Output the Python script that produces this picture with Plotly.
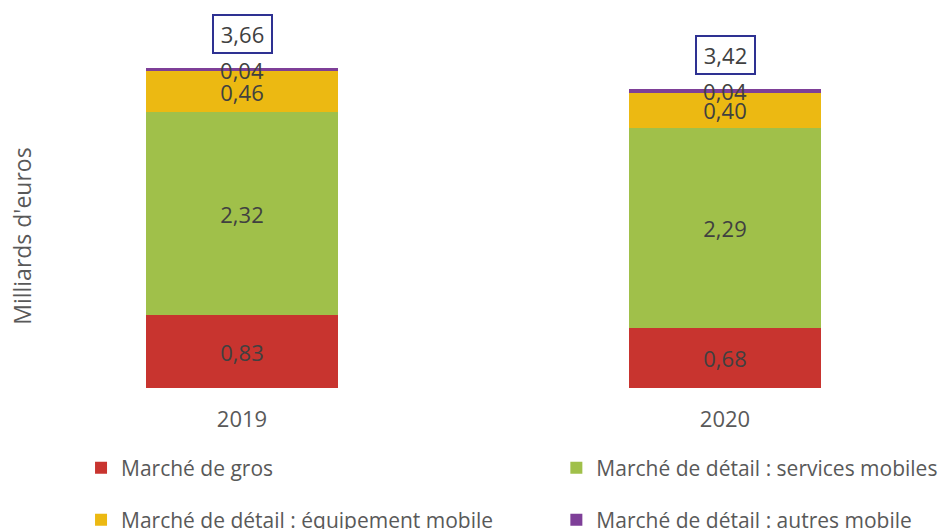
import plotly.graph_objects as go

categories = ["2019", "2020"]
gros = [0.83, 0.68]
services = [2.32, 2.29]
equipement = [0.46, 0.40]
autres = [0.04, 0.04]
totals_labels = ["3,66", "3,42"]

series_names = [
    "Marché de gros",
    "Marché de détail : services mobiles",
    "Marché de détail : équipement mobile",
    "Marché de détail : autres mobile",
]
series_values = [gros, services, equipement, autres]
colors = ["#C8342F", "#A0C04A", "#ECB912", "#7E3F98"]
legend_ids = ["legend", "legend2", "legend3", "legend4"]

FONT = "Open Sans"
fig = go.Figure()
for name, vals, col, lg in zip(series_names, series_values, colors, legend_ids):
    fig.add_trace(go.Bar(
        x=categories, y=vals, name=name, marker_color=col, marker_line_width=0,
        text=[f"{v:.2f}".replace(".", ",") for v in vals],
        textposition="inside", insidetextanchor="middle", textangle=0,
        constraintext="none", cliponaxis=False,
        textfont=dict(family=FONT, size=22, color="#404040"),
        width=0.3975, legend=lg,
    ))

stack_tops = [sum(v[i] for v in series_values) for i in range(len(categories))]
for i, (top, lab) in enumerate(zip(stack_tops, totals_labels)):
    fig.add_annotation(
        x=i, y=top, xref="x", yref="y", text=lab, showarrow=False,
        yanchor="bottom", yshift=14,
        font=dict(family=FONT, size=22, color="#404040"),
        bordercolor="#2E3192", borderwidth=2, borderpad=4, width=49, height=28,
        bgcolor="white",
    )

fig.add_annotation(
    x=-0.0437, y=0.4026, xref="paper", yref="paper", text="Milliards d'euros",
    xanchor="center", yanchor="middle",
    textangle=-90, showarrow=False, font=dict(family=FONT, size=23, color="#595959"),
)

legend_style = dict(orientation="h", yanchor="middle", xanchor="left",
                    xref="container", yref="container",
                    font=dict(family=FONT, size=21, color="#595959"),
                    bgcolor="rgba(0,0,0,0)")
row1, row2 = 0.1153, 0.017
colL, colR = 0.0863, 0.5925
fig.update_layout(
    barmode="stack",
    width=939, height=529,
    margin=dict(l=60, r=9, t=10, b=141, autoexpand=False),
    paper_bgcolor="white", plot_bgcolor="white",
    font=dict(family=FONT, size=20, color="#595959"),
    xaxis=dict(type="category", range=[-0.3768, 1.4244], showline=False,
               showgrid=False, zeroline=False, ticks="", ticklabelstandoff=16,
               tickfont=dict(family=FONT, size=22, color="#595959")),
    yaxis=dict(range=[0, 4.311], showticklabels=False, showgrid=False,
               zeroline=False, showline=False),
    legend=dict(x=colL, y=row1, **legend_style),
    legend2=dict(x=colR, y=row1, **legend_style),
    legend3=dict(x=colL, y=row2, **legend_style),
    legend4=dict(x=colR, y=row2, **legend_style),
    showlegend=True,
)

fig.write_html(
    "out.html",
    config={"displayModeBar": False},
    post_script="document.body.style.margin='0';document.body.style.overflow='hidden';",
)
